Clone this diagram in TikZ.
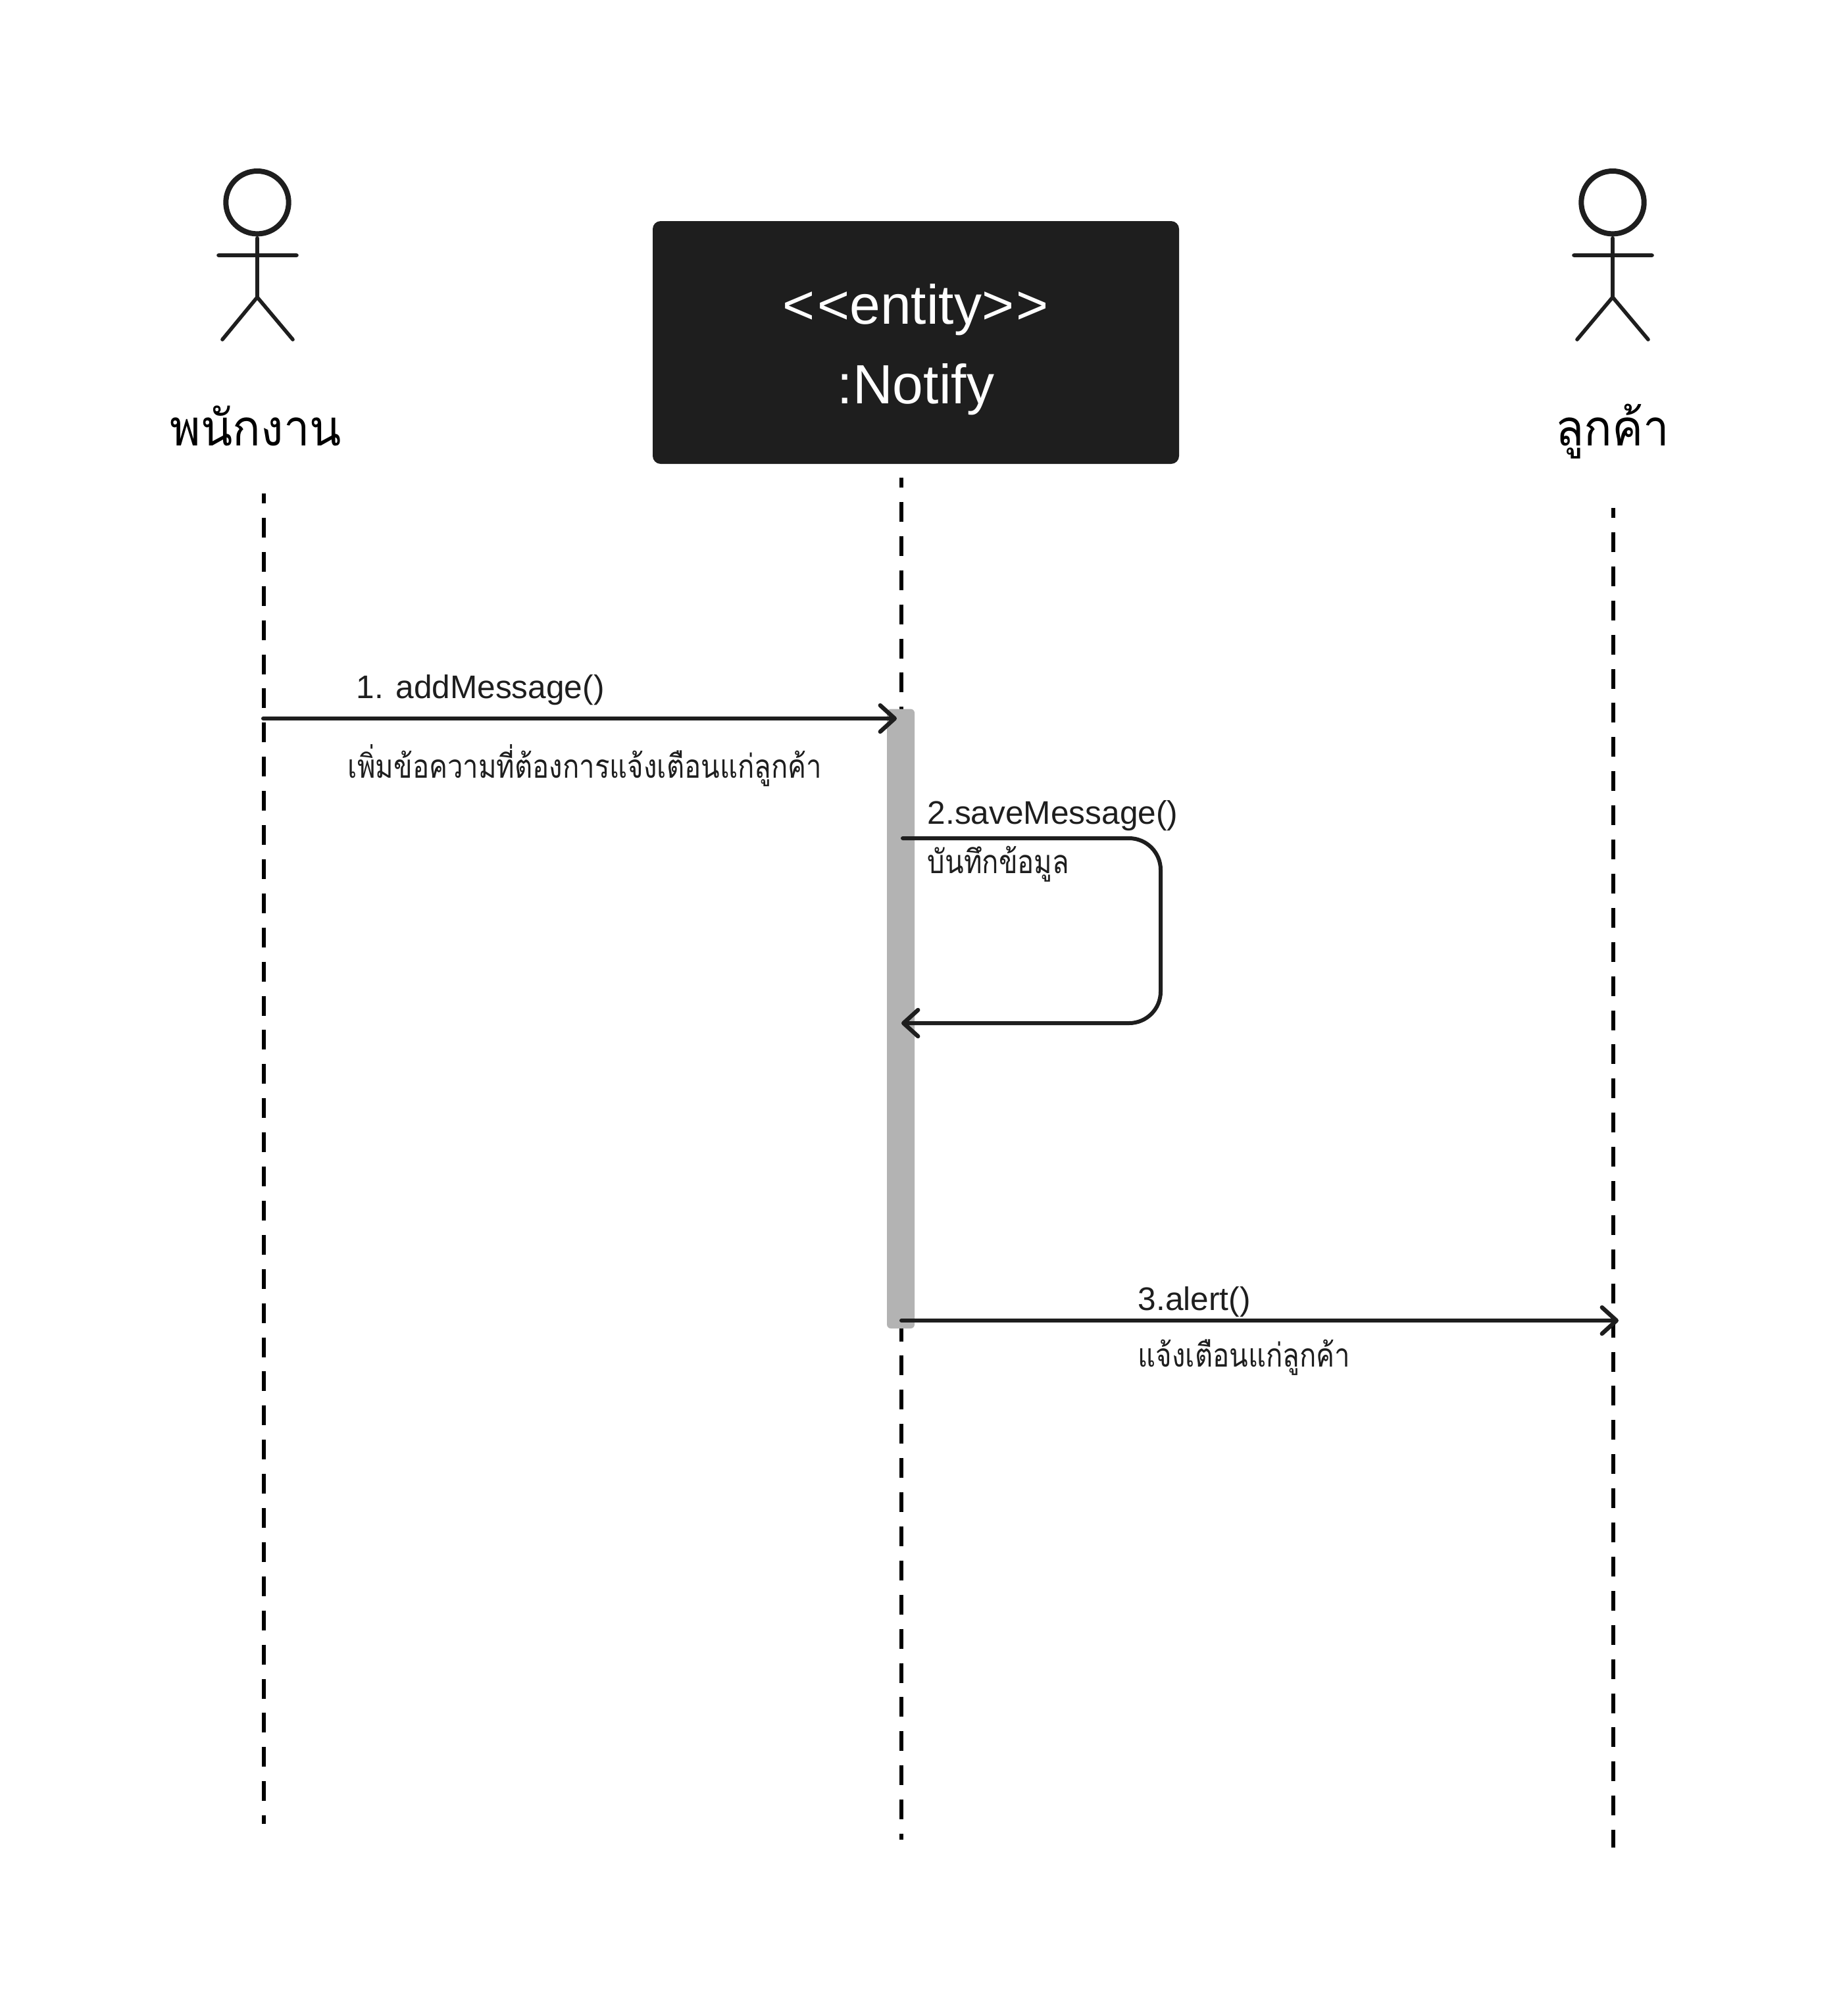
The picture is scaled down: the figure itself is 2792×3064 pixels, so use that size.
\documentclass[tikz,border=0pt]{standalone}
\usepackage{fontspec}
\setmainfont{Liberation Sans}
\newfontfamily\thaismall[Script=Thai,FakeStretch=0.845]{Loma}
\newfontfamily\thaibig[Script=Thai,FakeStretch=0.93]{Loma}
\usetikzlibrary{arrows.meta}
\definecolor{ink}{HTML}{1E1E1E}
\definecolor{barfill}{HTML}{B3B3B3}
\tikzset{
  x=0.25pt,y=-0.25pt,
  stick/.style={draw=ink,line width=1.4pt,line cap=round,line join=round},
  headring/.style={draw=ink,line width=2pt},
  lifeline/.style={draw=black,line width=1.5pt,dash pattern=on 7.5pt off 5.475pt,dash phase=3.75pt},
  msg/.style={draw=ink,line width=1.5pt,line cap=round,-{Straight Barb[length=5.5pt,width=10pt,line width=1.6pt,round]}},
  lbl/.style={inner sep=0pt,anchor=base west,text=ink},
  latin/.style={lbl,font=\fontsize{12.4}{14}\selectfont},
  thai/.style={lbl,font=\fontsize{12.4}{14}\selectfont\thaismall},
  actorlbl/.style={inner sep=0pt,anchor=base,text=black,font=\fontsize{19}{22}\selectfont\thaibig},
  boxlbl/.style={inner sep=0pt,anchor=base,text=white,font=\fontsize{21}{24}\selectfont},
}
\begin{document}
\begin{tikzpicture}
\useasboundingbox (0,0) rectangle (2792,3064);
% lifelines
\coordinate (aTop) at (400.7,750);   \coordinate (aBot) at (400.7,2772);
\coordinate (eTop) at (1369.5,726);  \coordinate (eBot) at (1369.5,2796);
\coordinate (cTop) at (2452,772);    \coordinate (cBot) at (2452,2808);
\draw[lifeline] (aTop) -- (aBot);
\draw[lifeline] (eTop) -- (eBot);
\draw[lifeline] (cTop) -- (cBot);
% entity box
\fill[ink,rounded corners=3pt] (992,336) rectangle (1792,705);
\node[boxlbl] (entityA) at (1392,492) {<\kern0.9pt<entity>\kern0.9pt>};
\node[boxlbl] (entityB) at (1392,613) {:Notify};
% activation
\fill[barfill,rounded corners=1.5pt] (1348,1077.5) rectangle (1390,2019);
% actor left
\draw[headring] (391,307.7) circle [radius=47.7];
\draw[stick] (391,361.7) -- (391,451.7) (332,388) -- (451,388) (338,516) -- (391,451.7) -- (445,516);
\node[actorlbl] (actorA) at (389,677) {พนักงาน};
% actor right
\draw[headring] (2451,307.7) circle [radius=47.7];
\draw[stick] (2451,361.7) -- (2451,451.7) (2392,388) -- (2511,388) (2397,516) -- (2451,451.7) -- (2505,516);
\node[actorlbl] (actorC) at (2451,677) {ลูกค้า};
% messages
\coordinate (m1a) at (400,1092);  \coordinate (m1b) at (1363,1092);
\coordinate (m2a) at (1372,1274); \coordinate (m2b) at (1764,1274);
\coordinate (m2c) at (1764,1555); \coordinate (m2d) at (1370,1555);
\coordinate (m3a) at (1370,2007); \coordinate (m3b) at (2460,2007);
\draw[msg] (m1a) -- (m1b);
\draw[msg,rounded corners=12pt] (m2a) -- (m2b) -- (m2c) -- (m2d);
\draw[msg] (m3a) -- (m3b);
\node[latin] (t1) at (541,1061) {1. addMessage()};
\node[thai] (t1b) at (528,1182) {เพิ่มข้อความที่ต้องการแจ้งเตือนแก่ลูกค้า};
\node[latin] (t2) at (1409,1252) {2.saveMessage()};
\node[thai] (t2b) at (1409,1327) {บันทึกข้อมูล};
\node[latin] (t3) at (1729,1991) {3.alert()};
\node[thai] (t3b) at (1729,2077) {แจ้งเตือนแก่ลูกค้า};
\end{tikzpicture}
\end{document}
